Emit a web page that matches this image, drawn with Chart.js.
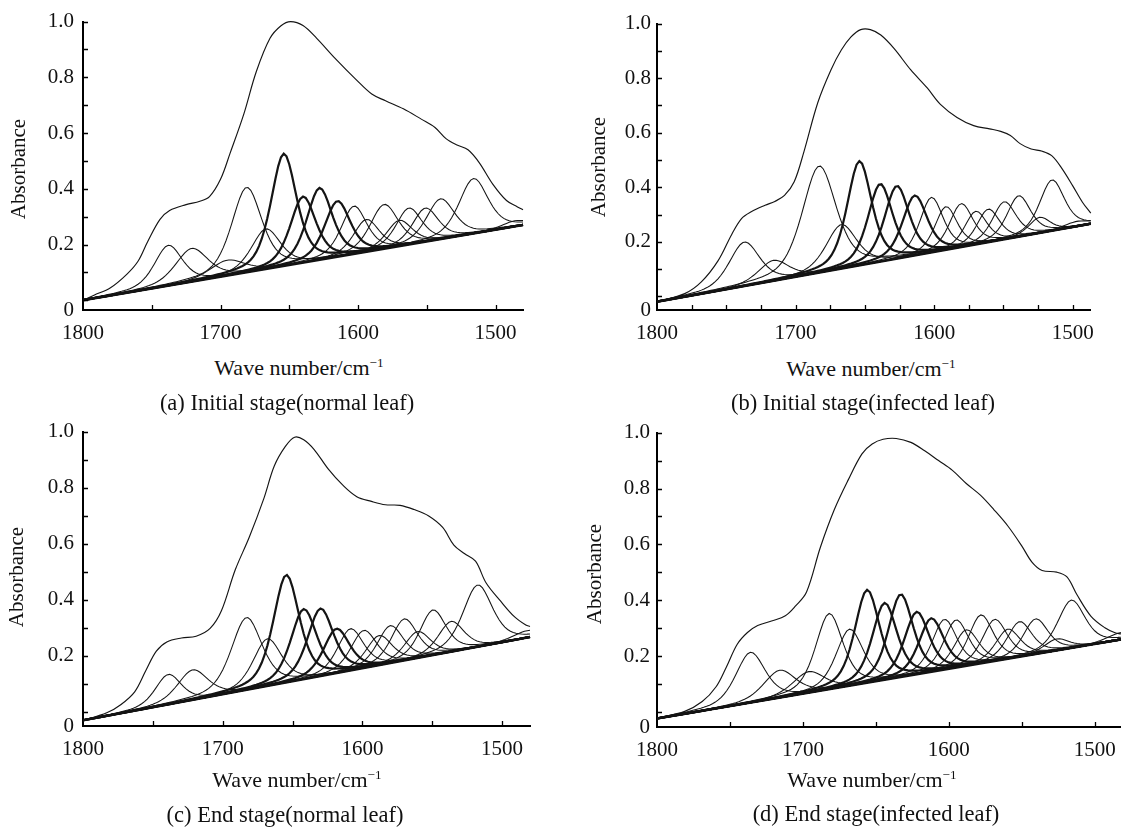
<!DOCTYPE html>
<html>
<head>
<meta charset="utf-8">
<script src="https://cdn.jsdelivr.net/npm/chart.js@4.4.1/dist/chart.umd.min.js"></script>
<style>
  body { margin: 0; background: #fff; }
  #fig { position: relative; width: 1126px; height: 828px; overflow: hidden; font-family: 'Liberation Serif', 'Times New Roman', Times, 'DejaVu Serif', serif; color: #111; }
  canvas { position: absolute; }
  .lab { position: absolute; white-space: nowrap; transform: translate(-50%, -50%); line-height: 1; }
  .yt { font-size: 21px; transform: translate(-50%, -50%) rotate(-90deg); }
  .xt { font-size: 22px; }
  .cap { font-size: 22.5px; }
  sup { font-size: 0.6em; vertical-align: 0.6em; line-height: 0; }
</style>
</head>
<body>
<div id="fig">
  <canvas id="ca"></canvas>
  <canvas id="cb"></canvas>
  <canvas id="cc"></canvas>
  <canvas id="cd"></canvas>

  <div class="lab yt" style="left:18px;top:169px">Absorbance</div>
  <div class="lab xt" style="left:299px;top:368px">Wave number/cm<sup>−1</sup></div>
  <div class="lab cap" style="left:287px;top:403px">(a) Initial stage(normal leaf)</div>

  <div class="lab yt" style="left:598px;top:167px">Absorbance</div>
  <div class="lab xt" style="left:871px;top:369px">Wave number/cm<sup>−1</sup></div>
  <div class="lab cap" style="left:863px;top:403px">(b) Initial stage(infected leaf)</div>

  <div class="lab yt" style="left:16px;top:577px">Absorbance</div>
  <div class="lab xt" style="left:297px;top:780px">Wave number/cm<sup>−1</sup></div>
  <div class="lab cap" style="left:285px;top:815px">(c) End stage(normal leaf)</div>

  <div class="lab yt" style="left:594px;top:574px">Absorbance</div>
  <div class="lab xt" style="left:872px;top:780px">Wave number/cm<sup>−1</sup></div>
  <div class="lab cap" style="left:876px;top:814px">(d) End stage(infected leaf)</div>
</div>
<script>
// tick labels
const xTickLabels = [1800, 1700, 1600, 1500];
const yTickLabels = [0.2, 0.4, 0.6, 0.8, 1.0];

// (a) Initial stage, normal leaf
const aSpecX = [1800, 1792, 1780, 1768, 1760, 1753, 1744, 1737, 1725, 1715, 1708, 1700, 1693, 1683, 1674, 1664, 1656, 1649, 1640, 1630, 1617, 1601, 1590, 1580, 1567, 1554, 1544, 1536, 1528, 1520, 1512, 1502, 1492, 1484, 1480];
const aSpecY = [0.0, 0.018, 0.045, 0.094, 0.14, 0.21, 0.29, 0.322, 0.343, 0.355, 0.372, 0.434, 0.528, 0.669, 0.82, 0.94, 0.985, 1.0, 0.986, 0.94, 0.87, 0.79, 0.74, 0.716, 0.687, 0.65, 0.62, 0.58, 0.557, 0.54, 0.495, 0.417, 0.358, 0.335, 0.325];
const aBandCenters = [1738, 1721, 1695, 1681, 1667, 1654, 1640, 1628, 1615, 1603, 1594, 1581, 1570, 1563, 1551, 1540, 1516, 1486];
const aBandTops = [0.197, 0.186, 0.144, 0.405, 0.256, 0.526, 0.372, 0.403, 0.356, 0.338, 0.290, 0.344, 0.287, 0.331, 0.331, 0.364, 0.437, 0.285];
const aBandWidths = [24, 28, 30, 26, 25, 22, 22, 22, 22, 22, 22, 24, 22, 22, 22, 24, 25, 22];
const aBaseX = [1800, 1480];
const aBaseY = [0.0, 0.27];

// (b) Initial stage, infected leaf
const bSpecX = [1800, 1780, 1768, 1756, 1746, 1739, 1732, 1722, 1715, 1708, 1701, 1694, 1684, 1674.5, 1667, 1660, 1653, 1646, 1638.5, 1629, 1617, 1605, 1595.5, 1583.5, 1571.5, 1560, 1552, 1545, 1538, 1530, 1522, 1515, 1508, 1500, 1493, 1487];
const bSpecY = [-0.02, 0.01, 0.053, 0.13, 0.228, 0.285, 0.31, 0.334, 0.348, 0.37, 0.42, 0.53, 0.71, 0.83, 0.903, 0.951, 0.978, 0.978, 0.958, 0.909, 0.831, 0.764, 0.704, 0.656, 0.626, 0.614, 0.605, 0.59, 0.56, 0.54, 0.532, 0.515, 0.47, 0.405, 0.345, 0.305];
const bBandCenters = [1737, 1716, 1683, 1667, 1654, 1639, 1627, 1614, 1602, 1591.5, 1580.5, 1570, 1561, 1549.5, 1539, 1524, 1515, 1497];
const bBandTops = [0.199, 0.132, 0.478, 0.263, 0.496, 0.412, 0.405, 0.370, 0.363, 0.329, 0.340, 0.312, 0.320, 0.347, 0.369, 0.290, 0.427, 0.275];
const bBandWidths = [26, 26, 29, 26, 21, 21, 21, 21, 20, 19, 20, 19, 19, 20, 20, 18, 21, 22];
const bBaseX = [1800, 1487];
const bBaseY = [-0.02, 0.266];

// (c) End stage, normal leaf
const cSpecX = [1800, 1783, 1773, 1763, 1755, 1747.5, 1740, 1729.5, 1719, 1709, 1701, 1691, 1681, 1670.5, 1663, 1655, 1648.5, 1642, 1634.5, 1624.5, 1614, 1604, 1593.5, 1583.5, 1573, 1563, 1552.5, 1542.5, 1534.5, 1527, 1519, 1511.5, 1501, 1491, 1483, 1480];
const cSpecY = [-0.03, -0.003, 0.026, 0.072, 0.148, 0.217, 0.25, 0.264, 0.27, 0.298, 0.36, 0.507, 0.623, 0.762, 0.878, 0.948, 0.98, 0.971, 0.936, 0.867, 0.809, 0.768, 0.751, 0.739, 0.737, 0.722, 0.699, 0.658, 0.595, 0.565, 0.538, 0.461, 0.395, 0.339, 0.31, 0.305];
const cBandCenters = [1739, 1721.5, 1683, 1668, 1654.5, 1642, 1630, 1618.5, 1608.5, 1599, 1588, 1580, 1570, 1560.5, 1549.5, 1536.5, 1517.5, 1482];
const cBandTops = [0.134, 0.150, 0.337, 0.261, 0.489, 0.367, 0.369, 0.297, 0.297, 0.291, 0.273, 0.308, 0.332, 0.287, 0.364, 0.323, 0.453, 0.29];
const cBandWidths = [22, 26, 26, 24, 22, 22, 22, 22, 22, 22, 22, 22, 22, 22, 22, 22, 25, 24];
const cBaseX = [1800, 1480];
const cBaseY = [-0.03, 0.267];

// (d) End stage, infected leaf
const dSpecX = [1800, 1781, 1769, 1759.5, 1752.5, 1745, 1738, 1731, 1721.5, 1712, 1705, 1697.5, 1688, 1678.5, 1669, 1659.5, 1652.5, 1645, 1636, 1626, 1616.5, 1607, 1597.5, 1588, 1578.5, 1569, 1559.5, 1550, 1543, 1536, 1526, 1519, 1512, 1502.5, 1493, 1486, 1482];
const dSpecY = [-0.022, 0.003, 0.038, 0.091, 0.161, 0.243, 0.285, 0.31, 0.326, 0.345, 0.38, 0.43, 0.59, 0.724, 0.83, 0.924, 0.959, 0.976, 0.979, 0.965, 0.935, 0.9, 0.865, 0.818, 0.777, 0.724, 0.666, 0.595, 0.537, 0.507, 0.501, 0.484, 0.419, 0.343, 0.302, 0.284, 0.28];
const dBandCenters = [1736, 1716, 1696, 1682, 1668, 1656, 1644, 1633, 1622, 1612, 1603, 1595, 1588, 1578, 1568.5, 1559.5, 1551.5, 1540.5, 1526, 1516, 1482];
const dBandTops = [0.214, 0.150, 0.145, 0.353, 0.297, 0.438, 0.391, 0.422, 0.359, 0.336, 0.332, 0.330, 0.295, 0.348, 0.332, 0.297, 0.324, 0.334, 0.262, 0.401, 0.285];
const dBandWidths = [24, 26, 26, 22, 22, 20, 20, 20, 20, 20, 20, 20, 20, 20, 20, 20, 20, 20, 20, 22, 22];
const dBaseX = [1800, 1482];
const dBaseY = [-0.023, 0.26];

// amide I bands (1610-1660) are drawn heavier
const BOLD_FROM = 1610, BOLD_TO = 1660;
const LORENTZ_SHARE = 0.5;
const INK = '#141414';

Chart.defaults.font.family = "'Liberation Serif', 'Times New Roman', Times, 'DejaVu Serif', serif";
Chart.defaults.font.size = 21;
Chart.defaults.color = '#111';

const innerTicks = {
  id: 'innerTicks',
  afterDraw(chart, args, opts) {
    const {ctx, chartArea: a, scales: {x, y}} = chart;
    ctx.save();
    ctx.strokeStyle = '#000';
    ctx.lineWidth = 1.3;
    ctx.beginPath();
    opts.x.forEach(v => {
      const px = Math.round(x.getPixelForValue(v)) + 0.5;
      ctx.moveTo(px, a.bottom);
      ctx.lineTo(px, a.bottom - 5);
    });
    opts.y.forEach(v => {
      const py = Math.round(y.getPixelForValue(v)) + 0.5;
      ctx.moveTo(a.left, py);
      ctx.lineTo(a.left + 5, py);
    });
    ctx.stroke();
    ctx.restore();
  }
};

function baseAt(bx, by, x) {
  return by[0] + (by[1] - by[0]) * (x - bx[0]) / (bx[1] - bx[0]);
}

// fitted band: pseudo-Voigt of given centre / apex / FWHM sitting on the baseline
function bandPoints(c, top, w, bx, by) {
  const amp = top - baseAt(bx, by, c);
  const xs = [];
  for (let x = bx[0]; x > bx[1]; x -= 2) xs.push(x);
  xs.push(bx[1]);
  return xs.map(x => {
    const u = (x - c) / w;
    const shape = LORENTZ_SHARE / (1 + 4 * u * u) + (1 - LORENTZ_SHARE) * Math.exp(-4 * Math.LN2 * u * u);
    return {x: x, y: baseAt(bx, by, x) + amp * shape};
  });
}

function drawPanel(id, geo, sx, sy, centers, tops, widths, bx, by) {
  const YW = 60, XH = 44, PT = 16, PR = 6;
  const cv = document.getElementById(id);
  const w = Math.round(geo.right - geo.left) + YW + PR;
  const h = Math.round(geo.bottom - geo.top) + PT + XH;
  cv.width = w; cv.height = h;
  cv.style.width = w + 'px'; cv.style.height = h + 'px';
  cv.style.left = (geo.left - YW) + 'px';
  cv.style.top = (geo.top - PT) + 'px';

  const thin = [], thick = [];
  centers.forEach((c, i) => {
    const bold = c >= BOLD_FROM && c <= BOLD_TO;
    const ds = {
      data: bandPoints(c, tops[i], widths[i], bx, by),
      borderColor: INK,
      borderWidth: bold ? 2.2 : 1.05,
      pointRadius: 0,
      tension: 0,
      clip: false
    };
    (bold ? thick : thin).push(ds);
  });
  const baseline = {
    data: bx.map((x, i) => ({x: x, y: by[i]})),
    borderColor: INK, borderWidth: 2.4, pointRadius: 0, clip: false
  };
  const spectrum = {
    data: sx.map((x, i) => ({x: x, y: sy[i]})),
    borderColor: INK, borderWidth: 1.15, pointRadius: 0,
    tension: 0.35, clip: false
  };

  const minorX = [];
  for (let v = 1800 - geo.step; v >= 1500; v -= geo.step) minorX.push(v);
  const minorY = [];
  for (let v = 0; v <= 10; v++) minorY.push(v / 10);

  new Chart(cv, {
    type: 'line',
    data: {datasets: thin.concat(thick, [baseline, spectrum])},
    options: {
      responsive: false,
      animation: false,
      events: [],
      layout: {padding: {top: PT, right: PR, left: 0, bottom: 0}},
      plugins: {
        legend: {display: false},
        tooltip: {enabled: false},
        innerTicks: {x: minorX, y: minorY}
      },
      scales: {
        x: {
          type: 'linear',
          reverse: true,
          min: geo.xMin,
          max: 1800,
          grid: {display: false, drawTicks: false},
          border: {display: true, color: '#000', width: 2},
          afterBuildTicks: s => { s.ticks = xTickLabels.map(v => ({value: v})); },
          afterFit: s => { s.height = XH; },
          ticks: {padding: 11, maxRotation: 0, autoSkip: false, callback: v => String(v)}
        },
        y: {
          type: 'linear',
          min: geo.yMin,
          max: 1.0,
          grid: {display: false, drawTicks: false},
          border: {display: true, color: '#000', width: 2},
          afterBuildTicks: s => { s.ticks = [geo.yMin].concat(yTickLabels).map(v => ({value: v})); },
          afterFit: s => { s.width = YW; },
          ticks: {padding: geo.gap, autoSkip: false, callback: v => (v <= 0 ? '0' : v.toFixed(1))}
        }
      }
    },
    plugins: [innerTicks]
  });
}

drawPanel('ca', {left: 83, right: 523, top: 15.7, bottom: 309.5, xMin: 1480, yMin: -0.035, step: 50, gap: 9},
  aSpecX, aSpecY, aBandCenters, aBandTops, aBandWidths, aBaseX, aBaseY);
drawPanel('cb', {left: 657, right: 1099, top: 20.7, bottom: 309.5, xMin: 1487, yMin: -0.05, step: 25, gap: 6},
  bSpecX, bSpecY, bBandCenters, bBandTops, bBandWidths, bBaseX, bBaseY);
drawPanel('cc', {left: 83, right: 530, top: 426.3, bottom: 726.7, xMin: 1480, yMin: -0.05, step: 50, gap: 9},
  cSpecX, cSpecY, cBandCenters, cBandTops, cBandWidths, cBaseX, cBaseY);
drawPanel('cd', {left: 657, right: 1121, top: 428.5, bottom: 726.7, xMin: 1482, yMin: -0.053, step: 50, gap: 7},
  dSpecX, dSpecY, dBandCenters, dBandTops, dBandWidths, dBaseX, dBaseY);
</script>
</body>
</html>
